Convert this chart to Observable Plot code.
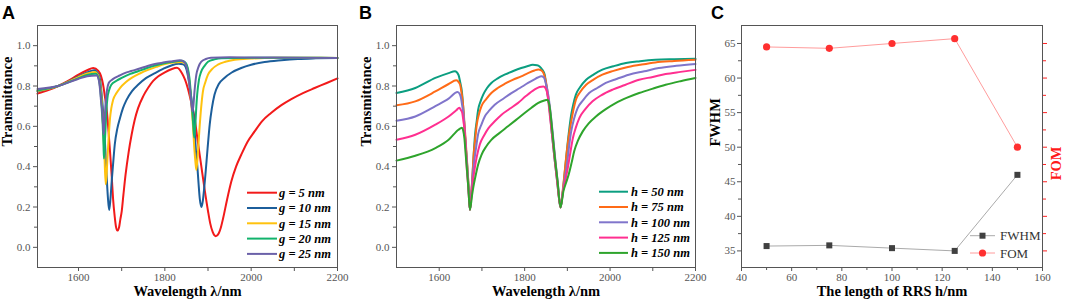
<!DOCTYPE html>
<html><head><meta charset="utf-8">
<script src="https://cdn.jsdelivr.net/npm/d3@7"></script>
<script src="https://cdn.jsdelivr.net/npm/@observablehq/plot@0.6"></script>
<style>
body{margin:0;background:#fff;}
#wrap{position:relative;width:1065px;height:305px;overflow:hidden;background:#fff;}
#wrap svg text{font-family:'Liberation Serif','Times New Roman',serif;}
.panel{position:absolute;top:0;}
#overlay{position:absolute;left:0;top:0;pointer-events:none;}
#overlay text.letter{font-family:'Liberation Sans',Arial,sans-serif;}
</style></head><body><div id="wrap"></div>
<script>
// ---------- Panel A data: wavelength (nm), transmittance ----------
const labelsA = ["g = 5 nm","g = 10 nm","g = 15 nm","g = 20 nm","g = 25 nm"];
const gA5 = [[1505,0.762],[1530,0.78],[1553,0.80],[1580,0.83],[1600,0.856],[1620,0.878],[1634,0.889],[1646,0.875],[1652,0.85],[1657,0.806],[1661,0.75],[1665,0.69],[1669,0.59],[1673,0.475],[1677,0.35],[1680,0.243],[1684,0.15],[1687,0.10],[1690,0.083],[1694,0.10],[1697,0.14],[1700,0.177],[1704,0.26],[1709,0.36],[1716,0.47],[1723,0.558],[1730,0.63],[1738,0.69],[1750,0.75],[1761,0.79],[1773,0.825],[1785,0.848],[1800,0.868],[1815,0.883],[1828,0.89],[1840,0.862],[1847,0.83],[1853,0.79],[1861,0.72],[1869,0.64],[1876,0.53],[1884,0.41],[1892,0.29],[1900,0.18],[1905,0.12],[1911,0.075],[1918,0.055],[1925,0.07],[1930,0.10],[1935,0.144],[1944,0.235],[1954,0.326],[1965,0.40],[1977,0.459],[1992,0.525],[2008,0.575],[2025,0.625],[2046,0.666],[2070,0.705],[2093,0.735],[2120,0.765],[2147,0.79],[2175,0.815],[2200,0.838]];
const gA10 = [[1505,0.773],[1530,0.786],[1553,0.80],[1580,0.825],[1600,0.848],[1620,0.867],[1636,0.878],[1646,0.858],[1650,0.83],[1653,0.773],[1656,0.70],[1659,0.61],[1662,0.49],[1665,0.36],[1668,0.25],[1671,0.185],[1674,0.24],[1677,0.33],[1680,0.41],[1684,0.51],[1690,0.59],[1696,0.64],[1703,0.69],[1711,0.73],[1724,0.775],[1738,0.806],[1757,0.84],[1777,0.864],[1796,0.885],[1815,0.902],[1832,0.91],[1842,0.908],[1848,0.895],[1853,0.856],[1858,0.79],[1862,0.73],[1865,0.69],[1869,0.58],[1872,0.48],[1875,0.41],[1878,0.32],[1881,0.24],[1885,0.20],[1888,0.23],[1891,0.29],[1894,0.36],[1899,0.49],[1904,0.61],[1909,0.69],[1915,0.757],[1925,0.81],[1938,0.84],[1955,0.867],[1977,0.889],[2000,0.905],[2031,0.919],[2070,0.928],[2108,0.934],[2150,0.937],[2200,0.939]];
const gA15 = [[1505,0.775],[1553,0.80],[1599,0.843],[1620,0.862],[1638,0.87],[1646,0.85],[1649,0.82],[1652,0.773],[1655,0.68],[1657,0.60],[1660,0.46],[1663,0.313],[1665,0.36],[1667,0.44],[1670,0.55],[1673,0.64],[1676,0.69],[1680,0.73],[1688,0.765],[1696,0.79],[1710,0.82],[1723,0.84],[1742,0.862],[1761,0.88],[1780,0.895],[1800,0.909],[1820,0.916],[1839,0.919],[1848,0.91],[1853,0.88],[1857,0.82],[1861,0.72],[1865,0.61],[1868,0.50],[1871,0.42],[1873,0.384],[1876,0.45],[1880,0.58],[1884,0.69],[1888,0.77],[1894,0.82],[1900,0.856],[1910,0.885],[1923,0.906],[1940,0.92],[1962,0.93],[2000,0.936],[2031,0.939],[2100,0.94],[2200,0.939]];
const gA20 = [[1505,0.778],[1553,0.80],[1599,0.838],[1620,0.855],[1640,0.861],[1646,0.843],[1649,0.81],[1651,0.773],[1654,0.68],[1656,0.61],[1658,0.50],[1659,0.44],[1661,0.52],[1663,0.61],[1665,0.69],[1667,0.74],[1671,0.78],[1676,0.806],[1688,0.826],[1700,0.84],[1720,0.86],[1738,0.873],[1757,0.888],[1777,0.902],[1796,0.912],[1815,0.919],[1839,0.925],[1848,0.915],[1853,0.89],[1857,0.84],[1860,0.77],[1863,0.69],[1866,0.60],[1868,0.545],[1871,0.62],[1873,0.70],[1875,0.76],[1879,0.83],[1884,0.87],[1892,0.90],[1900,0.92],[1915,0.932],[1931,0.938],[2000,0.94],[2100,0.94],[2200,0.939]];
const gA25 = [[1505,0.785],[1553,0.80],[1599,0.835],[1620,0.848],[1642,0.852],[1647,0.83],[1650,0.78],[1652,0.73],[1655,0.674],[1657,0.60],[1658,0.56],[1660,0.62],[1663,0.72],[1666,0.78],[1670,0.815],[1677,0.83],[1684,0.84],[1695,0.852],[1707,0.864],[1722,0.874],[1738,0.884],[1757,0.897],[1777,0.909],[1796,0.916],[1815,0.922],[1835,0.928],[1846,0.918],[1852,0.88],[1856,0.83],[1859,0.77],[1862,0.70],[1864,0.675],[1866,0.70],[1869,0.78],[1873,0.856],[1878,0.895],[1884,0.92],[1895,0.934],[1907,0.94],[1950,0.942],[2050,0.941],[2200,0.939]];

// ---------- Panel B data ----------
const labelsB = ["h = 50 nm","h = 75 nm","h = 100 nm","h = 125 nm","h = 150 nm"];
const hB50 = [[1500,0.765],[1544,0.79],[1591,0.84],[1622,0.864],[1637,0.873],[1645,0.856],[1649,0.82],[1653,0.773],[1657,0.67],[1660,0.56],[1664,0.45],[1667,0.36],[1670,0.25],[1672,0.186],[1675,0.25],[1678,0.36],[1681,0.47],[1684,0.56],[1688,0.63],[1691,0.68],[1697,0.725],[1703,0.757],[1712,0.79],[1722,0.815],[1737,0.838],[1753,0.856],[1772,0.873],[1792,0.889],[1806,0.898],[1819,0.905],[1829,0.903],[1835,0.897],[1841,0.882],[1847,0.856],[1852,0.78],[1858,0.69],[1864,0.56],[1870,0.44],[1876,0.33],[1880,0.25],[1884,0.198],[1888,0.25],[1892,0.33],[1897,0.44],[1903,0.56],[1909,0.658],[1914,0.71],[1920,0.757],[1930,0.795],[1944,0.831],[1962,0.858],[1982,0.881],[2008,0.898],[2037,0.914],[2070,0.923],[2106,0.93],[2150,0.933],[2200,0.935]];
const hB75 = [[1500,0.704],[1544,0.724],[1591,0.773],[1622,0.81],[1640,0.828],[1646,0.818],[1649,0.806],[1652,0.77],[1655,0.724],[1659,0.62],[1662,0.525],[1665,0.43],[1668,0.33],[1670,0.25],[1672,0.186],[1675,0.27],[1678,0.36],[1680,0.44],[1684,0.53],[1688,0.61],[1693,0.66],[1699,0.70],[1710,0.735],[1722,0.765],[1737,0.79],[1753,0.81],[1772,0.83],[1792,0.848],[1808,0.864],[1823,0.877],[1832,0.882],[1839,0.878],[1845,0.86],[1850,0.82],[1855,0.75],[1860,0.66],[1866,0.54],[1872,0.42],[1878,0.30],[1884,0.198],[1888,0.26],[1893,0.36],[1899,0.48],[1904,0.56],[1909,0.624],[1914,0.68],[1920,0.732],[1930,0.77],[1944,0.806],[1962,0.833],[1982,0.856],[2008,0.875],[2037,0.892],[2070,0.905],[2106,0.917],[2150,0.924],[2200,0.93]];
const hB100 = [[1500,0.628],[1544,0.649],[1591,0.70],[1622,0.737],[1643,0.77],[1648,0.76],[1651,0.74],[1654,0.70],[1657,0.658],[1660,0.57],[1663,0.476],[1666,0.38],[1669,0.28],[1672,0.186],[1675,0.26],[1678,0.34],[1681,0.41],[1686,0.49],[1691,0.56],[1699,0.61],[1707,0.65],[1718,0.68],[1730,0.707],[1750,0.737],[1769,0.765],[1789,0.79],[1808,0.815],[1822,0.832],[1831,0.842],[1839,0.848],[1845,0.842],[1850,0.81],[1855,0.76],[1860,0.68],[1866,0.56],[1872,0.43],[1878,0.31],[1884,0.198],[1889,0.27],[1894,0.34],[1899,0.41],[1904,0.50],[1909,0.575],[1916,0.64],[1924,0.69],[1937,0.73],[1951,0.765],[1970,0.79],[1990,0.815],[2015,0.835],[2044,0.856],[2080,0.873],[2114,0.889],[2155,0.90],[2200,0.909]];
const hB125 = [[1500,0.533],[1544,0.558],[1591,0.608],[1622,0.649],[1640,0.68],[1647,0.692],[1651,0.68],[1654,0.666],[1657,0.62],[1659,0.59],[1662,0.50],[1664,0.41],[1668,0.30],[1672,0.186],[1676,0.27],[1679,0.33],[1682,0.376],[1688,0.45],[1695,0.51],[1705,0.555],[1715,0.59],[1730,0.625],[1746,0.658],[1765,0.687],[1784,0.715],[1803,0.75],[1823,0.782],[1835,0.795],[1844,0.798],[1850,0.785],[1854,0.75],[1858,0.674],[1864,0.56],[1870,0.44],[1877,0.31],[1884,0.198],[1890,0.28],[1895,0.33],[1901,0.393],[1907,0.47],[1913,0.542],[1920,0.595],[1928,0.641],[1942,0.685],[1959,0.724],[1980,0.755],[2006,0.782],[2035,0.805],[2068,0.831],[2100,0.845],[2130,0.859],[2165,0.87],[2200,0.88]];
const hB150 = [[1500,0.43],[1544,0.454],[1591,0.492],[1622,0.533],[1645,0.583],[1653,0.593],[1656,0.58],[1659,0.54],[1662,0.46],[1664,0.41],[1668,0.30],[1672,0.186],[1677,0.26],[1680,0.30],[1684,0.343],[1691,0.41],[1699,0.459],[1710,0.50],[1722,0.533],[1740,0.565],[1761,0.60],[1780,0.632],[1800,0.666],[1816,0.692],[1831,0.715],[1846,0.728],[1853,0.732],[1857,0.715],[1860,0.674],[1865,0.57],[1870,0.46],[1877,0.33],[1884,0.198],[1891,0.28],[1897,0.32],[1903,0.36],[1910,0.42],[1916,0.476],[1925,0.53],[1936,0.575],[1950,0.615],[1967,0.649],[1990,0.685],[2013,0.715],[2040,0.742],[2068,0.765],[2100,0.787],[2130,0.806],[2165,0.824],[2200,0.84]];

// ---------- Panel C data ----------
const rrsLength = [50, 75, 100, 125, 150];
const fwhmValues = [35.7, 35.8, 35.4, 35.0, 46.0];
const fomValues = [64.5, 64.3, 65.0, 65.7, 50.0]; // drawn against the left scale (right axis unlabeled)
const labelsC = ["FWHM", "FOM"];

// ---------- Tick labels ----------
const wlTicks = [1600, 1800, 2000, 2200];
const wlMinor = [1700, 1900, 2100];
const tTicks = [0, 0.2, 0.4, 0.6, 0.8, 1.0];
const tMinor = [0.1, 0.3, 0.5, 0.7, 0.9];
const hTicks = [40, 60, 80, 100, 120, 140, 160];
const hMinor = [50, 70, 90, 110, 130, 150];
const cTicks = [35, 40, 45, 50, 55, 60, 65];
const cMinor = [37.5, 42.5, 47.5, 52.5, 57.5, 62.5];

// ---------- Styles ----------
const colorsA = ["#f21a1a", "#1c5e9b", "#ffc20e", "#12b36c", "#6b61a9"];
const colorsB = ["#0b9e80", "#ff6b17", "#8075cb", "#ff2f90", "#2ea42c"];
const SERIF = "'Liberation Serif','Times New Roman',serif";

const toRows = (labels, arrs) => labels.flatMap((s, i) => arrs[i].map(([w, t]) => ({s, w, t})));
const rowsA = toRows(labelsA, [gA5, gA10, gA15, gA20, gA25]);
const rowsB = toRows(labelsB, [hB50, hB75, hB100, hB125, hB150]);
const rowsC = rrsLength.flatMap((h, i) => [{s: "FWHM", h, v: fwhmValues[i]}, {s: "FOM", h, v: fomValues[i]}]);

const tickStyle = {fontSize: 11, color: "#555"};
const plain = d => String(d);

function spectrum(rows, labels, colors, xDomain, ml, mr) {
  return Plot.plot({
    width: 355, height: 305, marginLeft: ml, marginRight: mr, marginTop: 25, marginBottom: 38,
    x: {domain: xDomain, label: null},
    y: {domain: [-0.1, 1.1], label: null},
    color: {domain: labels, range: colors},
    style: {background: "transparent", fontFamily: SERIF, overflow: "visible"},
    marks: [
      Plot.axisX(wlTicks, {tickSize: 4, tickPadding: 2, tickFormat: plain, label: null, ...tickStyle}),
      Plot.axisX(wlMinor, {tickSize: 4, tickFormat: () => "", label: null, color: "#555"}),
      Plot.axisY(tTicks, {tickSize: 4, tickPadding: 3, tickFormat: d => d.toFixed(1), label: null, ...tickStyle}),
      Plot.axisY(tMinor, {tickSize: 3, tickFormat: () => "", label: null, color: "#555"}),
      Plot.line(rows, {x: "w", y: "t", z: "s", stroke: "s", strokeWidth: 2, curve: "monotone-x"}),
      Plot.frame({stroke: "#555", strokeWidth: 1}),
      Plot.text(["Wavelength λ/nm"], {text: d => d, frameAnchor: "bottom", dy: 28.5, fontSize: 14.5, fontWeight: "bold", fill: "#000"}),
      Plot.text(["Transmittance"], {text: d => d, frameAnchor: "left", dx: -30, rotate: -90, fontSize: 14.5, fontWeight: "bold", fill: "#000"})
    ]
  });
}

const plotA = spectrum(rowsA, labelsA, colorsA, [1505, 2200], 37, 18);
const plotB = spectrum(rowsB, labelsB, colorsB, [1500, 2200], 41, 15);

const plotC = Plot.plot({
  width: 365, height: 305, marginLeft: 41, marginRight: 23, marginTop: 25, marginBottom: 38,
  x: {domain: [40, 160], label: null},
  y: {domain: [32.6, 67.6], label: null},
  style: {background: "transparent", fontFamily: SERIF, overflow: "visible"},
  marks: [
    Plot.axisX(hTicks, {tickSize: 4, tickPadding: 2, tickFormat: plain, label: null, ...tickStyle}),
    Plot.axisX(hMinor, {tickSize: 3, tickFormat: () => "", label: null, color: "#555"}),
    Plot.axisY(cTicks, {tickSize: 4, tickPadding: 2, tickFormat: plain, label: null, ...tickStyle}),
    Plot.axisY(cMinor, {tickSize: 3, tickFormat: () => "", label: null, color: "#555"}),
    Plot.axisY(cTicks, {anchor: "right", tickSize: 4, tickFormat: () => "", label: null, color: "#ff2020"}),
    Plot.axisY(cMinor, {anchor: "right", tickSize: 3, tickFormat: () => "", label: null, color: "#ff2020"}),
    Plot.line(rowsC.filter(d => d.s === "FWHM"), {x: "h", y: "v", stroke: "#aaaaaa", strokeWidth: 1}),
    Plot.line(rowsC.filter(d => d.s === "FOM"), {x: "h", y: "v", stroke: "#ff9c9c", strokeWidth: 1}),
    Plot.dot(rowsC.filter(d => d.s === "FWHM"), {x: "h", y: "v", symbol: "square", fill: "#404040", r: 3.4}),
    Plot.dot(rowsC.filter(d => d.s === "FOM"), {x: "h", y: "v", symbol: "circle", fill: "#ff3030", r: 3.6}),
    Plot.frame({stroke: "#555", strokeWidth: 1}),
    Plot.text(["The length of RRS h/nm"], {text: d => d, frameAnchor: "bottom", dy: 28.5, fontSize: 14.5, fontWeight: "bold", fill: "#000"}),
    Plot.text(["FWHM"], {text: d => d, frameAnchor: "left", dx: -26, rotate: -90, fontSize: 14.5, fontWeight: "bold", fill: "#000"}),
    Plot.text(["FOM"], {text: d => d, frameAnchor: "right", dx: 14, rotate: -90, fontSize: 14.5, fontWeight: "bold", fill: "#ff1a1a"})
  ]
});

const wrap = document.getElementById("wrap");
[[plotA, 0], [plotB, 355], [plotC, 700]].forEach(([p, left]) => {
  p.classList.add("panel");
  p.style.left = left + "px";
  wrap.appendChild(p);
});

// ---------- Overlay: panel letters and legends ----------
const svg = d3.select(wrap).append("svg").attr("id", "overlay").attr("width", 1065).attr("height", 305);
[["A", 2], ["B", 359], ["C", 711]].forEach(([t, x]) => {
  svg.append("text").attr("class", "letter").attr("x", x).attr("y", 19).text(t)
    .attr("font-weight", "bold").attr("font-size", 18).attr("fill", "#000");
});
function lineLegend(labels, colors, x0, x1, tx, y0, step) {
  labels.forEach((lab, i) => {
    const y = y0 + i * step;
    svg.append("line").attr("x1", x0).attr("x2", x1).attr("y1", y).attr("y2", y).attr("stroke", colors[i]).attr("stroke-width", 2);
    svg.append("text").attr("x", tx).attr("y", y + 4.3).text(lab)
      .attr("font-weight", "bold").attr("font-style", "italic").attr("font-size", 12.5).attr("fill", "#000");
  });
}
lineLegend(labelsA, colorsA, 247, 277, 279, 192.7, 15.3);
lineLegend(labelsB, colorsB, 599, 628, 631, 191.7, 15.3);
// Panel C legend
const legC = [{lab: labelsC[0], line: "#aaaaaa", fill: "#404040", sym: "square", y: 235.7}, {lab: labelsC[1], line: "#ff9c9c", fill: "#ff3030", sym: "circle", y: 253}];
legC.forEach(d => {
  svg.append("line").attr("x1", 970).attr("x2", 995).attr("y1", d.y).attr("y2", d.y).attr("stroke", d.line).attr("stroke-width", 1);
  if (d.sym === "square") svg.append("rect").attr("x", 982.5 - 3).attr("y", d.y - 3).attr("width", 6).attr("height", 6).attr("fill", d.fill);
  else svg.append("circle").attr("cx", 982.5).attr("cy", d.y).attr("r", 3.6).attr("fill", d.fill);
  svg.append("text").attr("x", 1000).attr("y", d.y + 4.5).text(d.lab)
    .attr("font-size", 13).attr("fill", "#333");
});
</script></body></html>
